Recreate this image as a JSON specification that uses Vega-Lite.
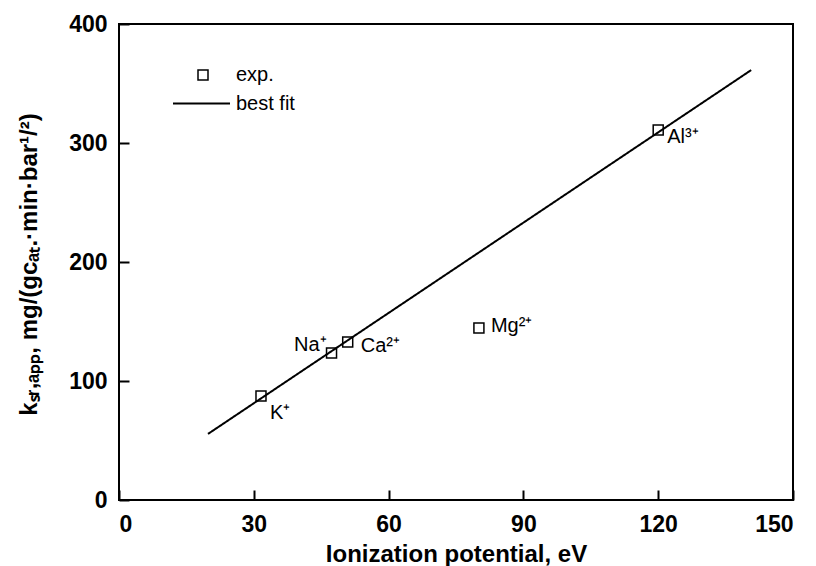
{
  "$schema": "https://vega.github.io/schema/vega-lite/v6.json",
  "autosize": {"type": "none"},
  "width": 674,
  "height": 476,
  "padding": {"left": 119, "top": 24, "right": 23, "bottom": 66},
  "background": "white",
  "config": {
    "view": {"stroke": "black", "strokeWidth": 2},
    "font": "Liberation Sans",
    "axis": {
      "grid": false,
      "domain": false,
      "tickColor": "black",
      "tickWidth": 2,
      "tickSize": -10,
      "labelColor": "black",
      "labelFont": "Liberation Sans",
      "labelFontWeight": "bold",
      "labelFontSize": 23,
      "titleColor": "black",
      "titleFont": "Liberation Sans",
      "titleFontWeight": "bold",
      "titleFontSize": 24
    },
    "legend": {
      "padding": 0,
      "labelFont": "Liberation Sans",
      "labelFontSize": 20,
      "labelColor": "black",
      "title": null
    }
  },
  "datasets": {
    "exp": [
      {"ion": "K⁺", "ip": 31.6, "k": 87.4, "series": "exp."},
      {"ion": "Na⁺", "ip": 47.3, "k": 123.5, "series": "exp."},
      {"ion": "Ca²⁺", "ip": 50.9, "k": 132.8, "series": "exp."},
      {"ion": "Mg²⁺", "ip": 80.1, "k": 144.5, "series": "exp."},
      {"ion": "Al³⁺", "ip": 120.0, "k": 310.9, "series": "exp."}
    ],
    "fit": [
      {"ip": 19.8, "k": 55.5, "series": "best fit"},
      {"ip": 140.7, "k": 361.3, "series": "best fit"}
    ]
  },
  "layer": [
    {
      "data": {"name": "fit"},
      "mark": {"type": "line", "color": "black", "strokeWidth": 2},
      "encoding": {
        "x": {
          "field": "ip", "type": "quantitative",
          "scale": {"domain": [0, 150], "nice": false},
          "axis": {
            "values": [0, 30, 60, 90, 120, 150],
            "labelPadding": 23,
            "title": "Ionization potential, eV",
            "titleX": 337, "titleY": 61,
            "titleBaseline": "alphabetic", "titleAlign": "center"
          }
        },
        "y": {
          "field": "k", "type": "quantitative",
          "scale": {"domain": [0, 400], "nice": false},
          "axis": {
            "values": [0, 100, 200, 300, 400],
            "labelPadding": 22,
            "title": "kₛᵣ,ₐₚₚ, mg/(gcₐₜ.·min·bar¹/²)",
            "titleAngle": -90,
            "titleX": -90, "titleY": 240,
            "titleAlign": "center", "titleBaseline": "middle"
          }
        },
        "strokeDash": {
          "field": "series", "type": "nominal",
          "scale": {"domain": ["best fit"], "range": [[1, 0]]},
          "legend": {
            "orient": "none", "legendX": 53, "legendY": 50,
            "symbolType": "stroke",
            "symbolSize": 3249,
            "symbolStrokeColor": "black",
            "symbolStrokeWidth": 2,
            "labelOffset": 5
          }
        }
      }
    },
    {
      "data": {"name": "exp"},
      "mark": {"type": "point", "filled": false, "color": "black", "strokeWidth": 1.5, "size": 100, "opacity": 1},
      "encoding": {
        "x": {"field": "ip", "type": "quantitative"},
        "y": {"field": "k", "type": "quantitative"},
        "shape": {
          "field": "series", "type": "nominal",
          "scale": {"domain": ["exp."], "range": ["square"]},
          "legend": {
            "orient": "none", "legendX": 74, "legendY": 41,
            "symbolSize": 100,
            "symbolStrokeColor": "black",
            "symbolFillColor": "transparent",
            "symbolStrokeWidth": 1.5,
            "labelOffset": 23
          }
        }
      }
    },
    {
      "data": {"name": "exp"},
      "transform": [{"filter": "datum.ion === 'K⁺'"}],
      "mark": {"type": "text", "align": "left", "baseline": "alphabetic", "dx": 9, "dy": 23, "fontSize": 20, "font": "Liberation Sans", "color": "black"},
      "encoding": {"x": {"field": "ip", "type": "quantitative"}, "y": {"field": "k", "type": "quantitative"}, "text": {"field": "ion"}}
    },
    {
      "data": {"name": "exp"},
      "transform": [{"filter": "datum.ion === 'Na⁺'"}],
      "mark": {"type": "text", "align": "right", "baseline": "alphabetic", "dx": -5, "dy": -2, "fontSize": 20, "font": "Liberation Sans", "color": "black"},
      "encoding": {"x": {"field": "ip", "type": "quantitative"}, "y": {"field": "k", "type": "quantitative"}, "text": {"field": "ion"}}
    },
    {
      "data": {"name": "exp"},
      "transform": [{"filter": "datum.ion === 'Ca²⁺'"}],
      "mark": {"type": "text", "align": "left", "baseline": "alphabetic", "dx": 13, "dy": 10, "fontSize": 20, "font": "Liberation Sans", "color": "black"},
      "encoding": {"x": {"field": "ip", "type": "quantitative"}, "y": {"field": "k", "type": "quantitative"}, "text": {"field": "ion"}}
    },
    {
      "data": {"name": "exp"},
      "transform": [{"filter": "datum.ion === 'Mg²⁺'"}],
      "mark": {"type": "text", "align": "left", "baseline": "alphabetic", "dx": 12, "dy": 4, "fontSize": 20, "font": "Liberation Sans", "color": "black"},
      "encoding": {"x": {"field": "ip", "type": "quantitative"}, "y": {"field": "k", "type": "quantitative"}, "text": {"field": "ion"}}
    },
    {
      "data": {"name": "exp"},
      "transform": [{"filter": "datum.ion === 'Al³⁺'"}],
      "mark": {"type": "text", "align": "left", "baseline": "alphabetic", "dx": 9, "dy": 13, "fontSize": 20, "font": "Liberation Sans", "color": "black"},
      "encoding": {"x": {"field": "ip", "type": "quantitative"}, "y": {"field": "k", "type": "quantitative"}, "text": {"field": "ion"}}
    }
  ]
}
